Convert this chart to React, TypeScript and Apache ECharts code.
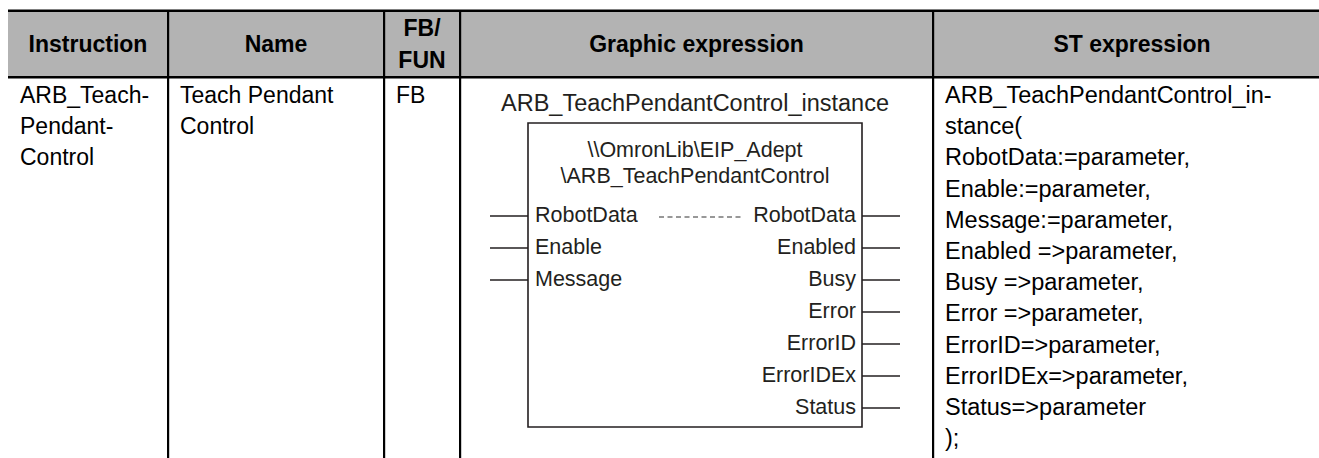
import React, { useEffect, useRef } from "react";
import * as echarts from "echarts";

// ---- table content ----
const headerLabels: string[][] = [
  ["Instruction"],
  ["Name"],
  ["FB/", "FUN"],
  ["Graphic expression"],
  ["ST expression"],
];
const instructionLines = ["ARB_Teach-", "Pendant-", "Control"];
const nameLines = ["Teach Pendant", "Control"];
const fbFunLines = ["FB"];
const instanceName = "ARB_TeachPendantControl_instance";
const fbPathLines = ["\\\\OmronLib\\EIP_Adept", "\\ARB_TeachPendantControl"];
const inputVars = ["RobotData", "Enable", "Message"];
const outputVars = ["RobotData", "Enabled", "Busy", "Error", "ErrorID", "ErrorIDEx", "Status"];
const stLines = [
  "ARB_TeachPendantControl_in-",
  "stance(",
  "RobotData:=parameter,",
  "Enable:=parameter,",
  "Message:=parameter,",
  "Enabled =>parameter,",
  "Busy =>parameter,",
  "Error =>parameter,",
  "ErrorID=>parameter,",
  "ErrorIDEx=>parameter,",
  "Status=>parameter",
  ");",
];

// ---- layout ----
const W = 1319;
const H = 458;
const FONT = '"Liberation Sans", Arial, Helvetica, sans-serif';
const colEdges = [8, 168, 384, 460, 933, 1331];
const topY = 9.5;
const headTop = 12;
const headBottom = 76;
const bodyTop = 78.5;
const pad = 12;
const bodyFirstY = 95;
const bodyLH = 31.2;
const bodySize = 23;
const headSize = 23;

function txt(text: string, x: number, y: number, o: any = {}) {
  return {
    type: "text",
    x,
    y,
    z: 10,
    silent: true,
    style: {
      text,
      fill: o.fill || "#000",
      fontSize: o.size || bodySize,
      fontFamily: FONT,
      fontWeight: o.weight || "normal",
      textAlign: o.align || "left",
      align: o.align || "left",
      textVerticalAlign: "middle",
      verticalAlign: "middle",
    },
  };
}

function hline(x1: number, x2: number, y: number, o: any = {}) {
  return {
    type: "line",
    z: o.z || 5,
    silent: true,
    shape: { x1, y1: y, x2, y2: y },
    style: { stroke: o.stroke || "#231f20", lineWidth: o.lw || 1.4, lineDash: o.dash || null },
  };
}

function buildGraphic() {
  const g: any[] = [];
  // header fill
  g.push({
    type: "rect",
    z: 1,
    silent: true,
    shape: { x: colEdges[0], y: headTop, width: W - colEdges[0], height: headBottom - headTop },
    style: { fill: "#b3b3b3" },
  });
  // top rule
  g.push({
    type: "rect",
    z: 3,
    silent: true,
    shape: { x: colEdges[0], y: topY, width: W - colEdges[0], height: headTop - topY },
    style: { fill: "#000" },
  });
  // header bottom rule
  g.push({
    type: "rect",
    z: 3,
    silent: true,
    shape: { x: colEdges[0], y: headBottom, width: W - colEdges[0], height: bodyTop - headBottom },
    style: { fill: "#000" },
  });
  // column dividers
  for (let i = 1; i < colEdges.length - 1; i++) {
    g.push({
      type: "rect",
      z: 3,
      silent: true,
      shape: { x: colEdges[i] - 1, y: headTop, width: 2.2, height: H - headTop },
      style: { fill: "#000" },
    });
  }
  // header labels
  headerLabels.forEach((lines, i) => {
    const cx = (colEdges[i] + colEdges[i + 1]) / 2;
    const mid = (headTop + headBottom) / 2;
    const lh = 32;
    lines.forEach((s, k) => {
      const y = mid + (k - (lines.length - 1) / 2) * lh;
      g.push(txt(s, cx, y, { weight: "bold", size: headSize, align: "center" }));
    });
  });
  // body columns
  const bodyCols = [instructionLines, nameLines, fbFunLines];
  bodyCols.forEach((lines, i) => {
    lines.forEach((s, k) => g.push(txt(s, colEdges[i] + pad, bodyFirstY + k * bodyLH)));
  });
  stLines.forEach((s, k) => g.push(txt(s, colEdges[4] + pad, bodyFirstY + k * bodyLH, { size: 23.5 })));

  // graphic expression
  const gcx = 695;
  const boxL = 528;
  const boxR = 862;
  const boxT = 123;
  const boxB = 427;
  const pinLen = 38;
  const boxFill = "#231f20";
  g.push(txt(instanceName, gcx, 103, { size: 23.5, align: "center", fill: boxFill }));
  g.push({
    type: "rect",
    z: 6,
    silent: true,
    shape: { x: boxL, y: boxT, width: boxR - boxL, height: boxB - boxT },
    style: { fill: "none", stroke: boxFill, lineWidth: 1.6 },
  });
  fbPathLines.forEach((s, k) =>
    g.push(txt(s, gcx, 150 + k * 25.5, { size: 21.5, align: "center", fill: boxFill }))
  );
  const pinTop = 215;
  const pinStep = 32;
  inputVars.forEach((s, k) => {
    const y = pinTop + k * pinStep;
    g.push(txt(s, boxL + 7, y, { size: 21.5, fill: boxFill }));
    g.push(hline(boxL - pinLen, boxL, y + 1));
  });
  outputVars.forEach((s, k) => {
    const y = pinTop + k * pinStep;
    g.push(txt(s, boxR - 6, y, { size: 21.5, fill: boxFill, align: "right" }));
    g.push(hline(boxR, boxR + pinLen, y + 1));
  });
  // in-out link dashes
  g.push(hline(659, 743, pinTop + 2, { dash: [5, 3.5], stroke: "#333", lw: 1.2 }));
  return g;
}

export default function App() {
  const ref = useRef<HTMLDivElement>(null);
  useEffect(() => {
    document.body.style.margin = "0";
    if (!ref.current) return;
    const chart = echarts.init(ref.current, null, { renderer: "svg", width: W, height: H });
    chart.setOption({
      animation: false,
      backgroundColor: "#ffffff",
      graphic: { elements: buildGraphic() },
    });
    return () => chart.dispose();
  }, []);
  return <div ref={ref} style={{ width: W, height: H }} />;
}
